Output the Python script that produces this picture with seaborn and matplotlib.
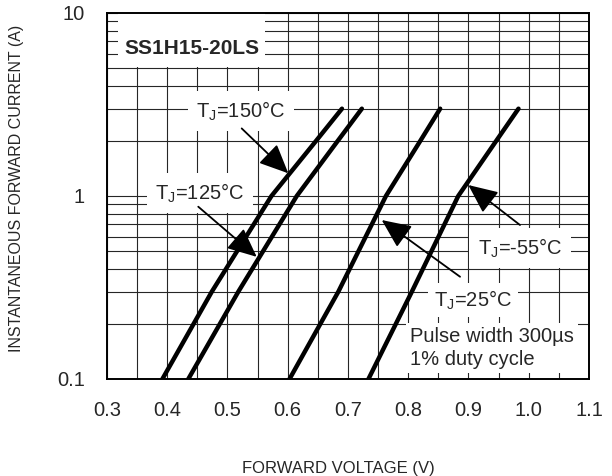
import numpy as np
import pandas as pd
import matplotlib
matplotlib.use("Agg")
import matplotlib.pyplot as plt
from matplotlib.patches import Rectangle
from matplotlib.ticker import FixedLocator, FixedFormatter, NullFormatter
import seaborn as sns

# forward current points (A)
current = [0.1, 0.3, 1.0, 2.0, 3.0]
# forward voltage (V) for each junction temperature
v_150 = [0.392, 0.474, 0.573, 0.647, 0.690]
v_125 = [0.435, 0.518, 0.615, 0.683, 0.723]
v_25 = [0.603, 0.684, 0.763, 0.820, 0.853]
v_m55 = [0.734, 0.806, 0.883, 0.946, 0.983]
temps = ["150", "125", "25", "-55"]

x_ticks = [0.3, 0.4, 0.5, 0.6, 0.7, 0.8, 0.9, 1.0, 1.1]
x_labels = ["0.3", "0.4", "0.5", "0.6", "0.7", "0.8", "0.9", "1.0", "1.1"]
y_ticks = [0.1, 1, 10]
y_labels = ["0.1", "1", "10"]

rows = []
for t, vs in zip(temps, [v_150, v_125, v_25, v_m55]):
    for v, i in zip(vs, current):
        rows.append({"temp": t, "V": v, "I": i})
df = pd.DataFrame(rows)

sns.set_style("white")
plt.rcParams["font.family"] = ["Liberation Sans", "DejaVu Sans"]
plt.rcParams["mathtext.default"] = "regular"

fig = plt.figure(figsize=(6.12, 4.76), dpi=100)
ax = fig.add_axes([0.1748, 0.2038, 0.7876, 0.7689])

sns.lineplot(data=df, x="V", y="I", hue="temp", palette=["black"] * 4,
             estimator=None, sort=False, legend=False, linewidth=3.2,
             ax=ax, zorder=3, solid_capstyle="round")

ax.set_yscale("log")
ax.set_xlim(0.3, 1.1)
ax.set_ylim(0.1, 10)

ax.xaxis.set_major_locator(FixedLocator(x_ticks))
ax.xaxis.set_major_formatter(FixedFormatter(x_labels))
ax.xaxis.set_minor_locator(FixedLocator(np.arange(0.35, 1.1, 0.1)))
ax.yaxis.set_major_locator(FixedLocator(y_ticks))
ax.yaxis.set_major_formatter(FixedFormatter(y_labels))
ax.yaxis.set_minor_locator(FixedLocator([m * d for d in [0.1, 1] for m in range(2, 10)]))
ax.yaxis.set_minor_formatter(NullFormatter())

ax.grid(True, which="both", color="#262626", linewidth=0.8)
ax.set_axisbelow(True)
ax.tick_params(which="both", length=0)
ax.tick_params(axis="x", labelsize=14.5, pad=16)
ax.tick_params(axis="y", labelsize=14.5, pad=16)

for s in ax.spines.values():
    s.set_color("black")
    s.set_linewidth(1.4)
    s.set_zorder(5)

ax.set_xlabel("FORWARD VOLTAGE (V)", fontsize=12)
ax.set_ylabel("INSTANTANEOUS FORWARD CURRENT (A)", fontsize=11.5)
ax.xaxis.set_label_coords(0.48, -0.225)
ax.yaxis.set_label_coords(-0.172, 0.52)

# part number box
ax.add_patch(Rectangle((0.318, 5.1), 0.244, 4.9, facecolor="white",
                       edgecolor="none", zorder=2))
ax.text(0.4406, 6.4, "SS1H15-20LS", fontsize=15, fontweight="bold",
        ha="center", va="center", zorder=2.5)

box = dict(facecolor="white", edgecolor="none", pad=6)
ax.text(0.5224, 2.91, "T$_J$=150°C", fontsize=14.5, ha="center", va="center",
        bbox=box, zorder=2.5)
ax.text(0.4544, 1.04, "T$_J$=125°C", fontsize=14.5, ha="center", va="center",
        bbox=box, zorder=2.5)
ax.text(0.9855, 0.52, "T$_J$=-55°C", fontsize=14.5, ha="center", va="center",
        bbox=box, zorder=2.5)
ax.text(0.9075, 0.27, "T$_J$=25°C", fontsize=14.5, ha="center", va="center",
        bbox=dict(facecolor="white", edgecolor="none", pad=4), zorder=2.5)
ax.text(0.803, 0.148, "Pulse width 300µs\n1% duty cycle", fontsize=14.5,
        ha="left", va="center", linespacing=1.25,
        bbox=dict(facecolor="white", edgecolor="none", pad=3), zorder=2.5)

arrow = dict(arrowstyle="-|>,head_length=1.0,head_width=0.45", mutation_scale=18,
             color="black", lw=1.3, shrinkA=0, shrinkB=0)
ax.annotate("", xy=(0.601, 1.33), xytext=(0.5236, 2.34), arrowprops=arrow, zorder=4)
ax.annotate("", xy=(0.5485, 0.465), xytext=(0.4515, 0.874), arrowprops=arrow, zorder=4)
ax.annotate("", xy=(0.756, 0.739), xytext=(0.886, 0.362), arrowprops=arrow, zorder=4)
ax.annotate("", xy=(0.8997, 1.148), xytext=(0.9855, 0.694), arrowprops=arrow, zorder=4)

plt.savefig("out.png", dpi=100)
